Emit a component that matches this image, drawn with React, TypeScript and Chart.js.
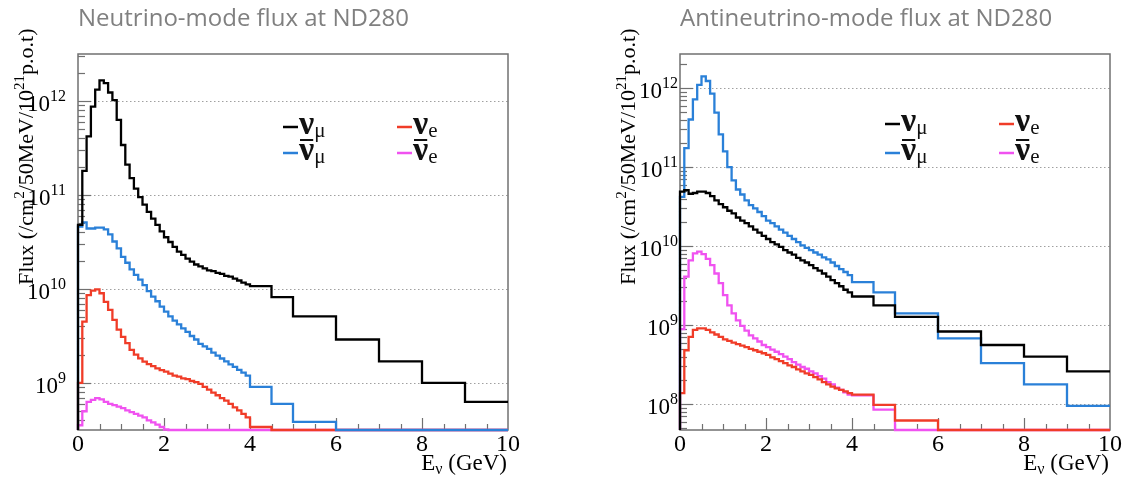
import React, { useEffect, useRef } from 'react';
import { Chart, registerables } from 'chart.js';

Chart.register(...registerables);

// ---------- data ----------
// Energy bin edges (GeV): 0.1 GeV bins up to 4 GeV, then wider bins.
const BIN_EDGES = [
  0, 0.1, 0.2, 0.3, 0.4, 0.5, 0.6, 0.7, 0.8, 0.9,
  1.0, 1.1, 1.2, 1.3, 1.4, 1.5, 1.6, 1.7, 1.8, 1.9,
  2.0, 2.1, 2.2, 2.3, 2.4, 2.5, 2.6, 2.7, 2.8, 2.9,
  3.0, 3.1, 3.2, 3.3, 3.4, 3.5, 3.6, 3.7, 3.8, 3.9,
  4.0, 4.5, 5, 6, 7, 8, 9, 10,
];

const X_TICK_LABELS = [0, 2, 4, 6, 8, 10];

// Neutrino mode (FHC) fluxes, /cm^2/50MeV/1e21 p.o.t
const FHC_NUMU = [
  4.8e10, 1.8e11, 4.2e11, 8.7e11, 1.32e12, 1.66e12, 1.55e12, 1.23e12, 1.02e12, 6.3e11,
  3.4e11, 2.1e11, 1.51e11, 1.17e11, 9.5e10, 7.9e10, 6.6e10, 5.6e10, 4.8e10, 4.1e10,
  3.55e10, 3.16e10, 2.8e10, 2.5e10, 2.3e10, 2.1e10, 1.95e10, 1.82e10, 1.74e10, 1.66e10,
  1.58e10, 1.55e10, 1.48e10, 1.45e10, 1.38e10, 1.35e10, 1.29e10, 1.23e10, 1.17e10, 1.12e10,
  1.07e10, 8.2e9, 5.1e9, 2.9e9, 1.7e9, 1.0e9, 6.3e8,
];
const FHC_NUMUBAR = [
  4.6e10, 5.1e10, 4.4e10, 4.4e10, 4.5e10, 4.5e10, 4.3e10, 3.8e10, 3.2e10, 2.7e10,
  2.2e10, 1.9e10, 1.62e10, 1.41e10, 1.26e10, 1.1e10, 9.5e9, 8.3e9, 7.4e9, 6.5e9,
  5.75e9, 5.1e9, 4.6e9, 4.2e9, 3.8e9, 3.5e9, 3.16e9, 2.9e9, 2.6e9, 2.45e9,
  2.3e9, 2.1e9, 1.95e9, 1.82e9, 1.7e9, 1.58e9, 1.48e9, 1.38e9, 1.29e9, 1.2e9,
  9.1e8, 6.0e8, 3.85e8, 2.0e8, 1.4e8, 9e7, 6e7,
];
const FHC_NUE = [
  1.0e9, 4.5e9, 8.6e9, 9.6e9, 9.9e9, 9.0e9, 7.3e9, 6.0e9, 4.7e9, 3.7e9,
  3.1e9, 2.65e9, 2.25e9, 2.0e9, 1.83e9, 1.69e9, 1.59e9, 1.51e9, 1.43e9, 1.37e9,
  1.32e9, 1.26e9, 1.2e9, 1.17e9, 1.12e9, 1.1e9, 1.05e9, 1.02e9, 9.8e8, 9.1e8,
  8.5e8, 7.9e8, 7.4e8, 6.9e8, 6.5e8, 6.0e8, 5.5e8, 5.1e8, 4.7e8, 4.3e8,
  3.4e8, 2.6e8, 1.9e8, 1.3e8, 9e7, 6e7, 4e7,
];
const FHC_NUEBAR = [
  3.55e8, 5.0e8, 6.3e8, 6.6e8, 6.9e8, 6.7e8, 6.3e8, 6.0e8, 5.8e8, 5.6e8,
  5.4e8, 5.1e8, 4.9e8, 4.7e8, 4.5e8, 4.3e8, 4.0e8, 3.8e8, 3.6e8, 3.4e8,
  3.2e8, 3.0e8, 2.8e8, 2.65e8, 2.5e8, 2.35e8, 2.2e8, 2.1e8, 1.95e8, 1.85e8,
  1.75e8, 1.65e8, 1.55e8, 1.45e8, 1.35e8, 1.25e8, 1.15e8, 1.05e8, 9.8e7, 9.0e7,
  7.5e7, 5.5e7, 3.5e7, 2e7, 1.2e7, 7e6, 4e6,
];

// Antineutrino mode (RHC) fluxes
const RHC_NUMU = [
  4.9e10, 5.1e10, 4.6e10, 4.7e10, 4.9e10, 4.9e10, 4.7e10, 4.3e10, 3.8e10, 3.4e10,
  3.1e10, 2.8e10, 2.6e10, 2.3e10, 2.1e10, 1.95e10, 1.78e10, 1.62e10, 1.48e10, 1.35e10,
  1.23e10, 1.12e10, 1.05e10, 9.8e9, 8.9e9, 8.3e9, 7.8e9, 7.1e9, 6.6e9, 6.2e9,
  5.75e9, 5.25e9, 4.9e9, 4.5e9, 4.1e9, 3.7e9, 3.4e9, 3.1e9, 2.8e9, 2.6e9,
  2.3e9, 1.78e9, 1.27e9, 8.3e8, 5.6e8, 4.0e8, 2.6e8,
];
const RHC_NUMUBAR = [
  4.2e10, 1.74e11, 4.0e11, 7.2e11, 1.1e12, 1.41e12, 1.23e12, 8.5e11, 4.9e11, 2.6e11,
  1.58e11, 1.0e11, 6.8e10, 5.2e10, 4.5e10, 3.8e10, 3.3e10, 3.0e10, 2.7e10, 2.4e10,
  2.1e10, 1.95e10, 1.78e10, 1.62e10, 1.48e10, 1.35e10, 1.23e10, 1.12e10, 1.02e10, 9.5e9,
  8.9e9, 8.3e9, 7.8e9, 7.2e9, 6.8e9, 6.2e9, 5.6e9, 5.1e9, 4.7e9, 4.3e9,
  3.5e9, 2.6e9, 1.41e9, 6.8e8, 3.3e8, 1.78e8, 9.5e7,
];
const RHC_NUE = [
  1.38e8, 4.8e8, 7.1e8, 8.7e8, 9.1e8, 9.1e8, 8.7e8, 8.1e8, 7.6e8, 7.1e8,
  6.6e8, 6.3e8, 6.0e8, 5.75e8, 5.5e8, 5.25e8, 5.0e8, 4.8e8, 4.6e8, 4.4e8,
  4.2e8, 3.9e8, 3.7e8, 3.5e8, 3.3e8, 3.1e8, 2.95e8, 2.75e8, 2.6e8, 2.45e8,
  2.35e8, 2.2e8, 2.05e8, 1.9e8, 1.78e8, 1.66e8, 1.58e8, 1.51e8, 1.45e8, 1.38e8,
  1.32e8, 9.8e7, 6.2e7, 3.5e7, 2.5e7, 1.8e7, 1.2e7,
];
const RHC_NUEBAR = [
  8.9e8, 4.1e9, 6.6e9, 8.1e9, 8.5e9, 7.9e9, 6.9e9, 5.75e9, 4.5e9, 3.4e9,
  2.4e9, 1.78e9, 1.41e9, 1.15e9, 9.8e8, 8.5e8, 7.4e8, 6.8e8, 6.2e8, 5.6e8,
  5.25e8, 4.9e8, 4.6e8, 4.3e8, 4.0e8, 3.7e8, 3.4e8, 3.16e8, 2.95e8, 2.8e8,
  2.6e8, 2.45e8, 2.25e8, 2.1e8, 1.9e8, 1.78e8, 1.62e8, 1.51e8, 1.41e8, 1.32e8,
  1.29e8, 8.5e7, 4.0e7, 2.5e7, 1.5e7, 9e6, 5e6,
];

const FHC_Y_RANGE = [3.16e8, 3.16e12];
const RHC_Y_RANGE = [4.7e7, 2.7e12];

const FHC_TITLE = 'Neutrino-mode flux at ND280';
const RHC_TITLE = 'Antineutrino-mode flux at ND280';

// ---------- styling ----------
const COLOR_NUMU = '#000000';
const COLOR_NUMUBAR = '#2a80d8';
const COLOR_NUE = '#f03c28';
const COLOR_NUEBAR = '#f052f0';

const SERIF = '"Liberation Serif", "DejaVu Serif", serif';
const SANS = '"Open Sans", "Noto Sans", sans-serif';
const FRAME = '#707070';

type Run = { t: string; size: number; dy?: number; bold?: boolean };

function runFont(r: Run) {
  return `${r.bold ? 'bold ' : ''}${r.size}px ${SERIF}`;
}
function runsWidth(ctx: CanvasRenderingContext2D, runs: Run[]) {
  let w = 0;
  for (const r of runs) {
    ctx.font = runFont(r);
    w += ctx.measureText(r.t).width;
  }
  return w;
}
function drawRuns(
  ctx: CanvasRenderingContext2D,
  runs: Run[],
  x: number,
  y: number,
  align: 'left' | 'right' | 'center',
) {
  const w = runsWidth(ctx, runs);
  let cx = align === 'left' ? x : align === 'right' ? x - w : x - w / 2;
  ctx.textAlign = 'left';
  ctx.textBaseline = 'alphabetic';
  for (const r of runs) {
    ctx.font = runFont(r);
    ctx.fillText(r.t, cx, y + (r.dy || 0));
    cx += ctx.measureText(r.t).width;
  }
}

type Series = { data: number[]; color: string };
type LegendEntry = { color: string; sub: string; anti: boolean; col: number; row: number };

const LEGEND: LegendEntry[] = [
  { color: COLOR_NUMU, sub: 'μ', anti: false, col: 0, row: 0 },
  { color: COLOR_NUE, sub: 'e', anti: false, col: 1, row: 0 },
  { color: COLOR_NUMUBAR, sub: 'μ', anti: true, col: 0, row: 1 },
  { color: COLOR_NUEBAR, sub: 'e', anti: true, col: 1, row: 1 },
];

type PanelCfg = {
  title: string;
  yRange: number[];
  series: Series[];
  padding: { left: number; right: number; top: number; bottom: number };
  legendRows: number[];
  yLabelGap: number;
};

function makePlugin(cfg: PanelCfg) {
  return {
    id: 'rootStyle',
    beforeDatasetsDraw(chart: any) {
      const ctx: CanvasRenderingContext2D = chart.ctx;
      const { left, right, top, bottom } = chart.chartArea;
      const xs = chart.scales.x;
      const ys = chart.scales.y;
      const [yMin, yMax] = cfg.yRange;
      ctx.save();
      // dotted gridlines at decades
      ctx.strokeStyle = '#a0a0a0';
      ctx.lineWidth = 1;
      ctx.setLineDash([1.5, 2.5]);
      for (let d = Math.ceil(Math.log10(yMin)); d <= Math.floor(Math.log10(yMax)); d++) {
        const y = Math.round(ys.getPixelForValue(Math.pow(10, d))) + 0.5;
        ctx.beginPath();
        ctx.moveTo(left, y);
        ctx.lineTo(right, y);
        ctx.stroke();
      }
      ctx.setLineDash([]);
      // frame
      ctx.strokeStyle = FRAME;
      ctx.lineWidth = 1.5;
      ctx.strokeRect(left, top, right - left, bottom - top);
      // y ticks
      ctx.lineWidth = 1.2;
      for (let d = Math.floor(Math.log10(yMin)); d <= Math.ceil(Math.log10(yMax)); d++) {
        for (let m = 1; m <= 9; m++) {
          const v = m * Math.pow(10, d);
          if (v < yMin * 1.001 || v > yMax * 0.999) continue;
          const y = Math.round(ys.getPixelForValue(v)) + 0.5;
          ctx.beginPath();
          ctx.moveTo(left, y);
          ctx.lineTo(left + (m === 1 ? 13 : 7), y);
          ctx.stroke();
        }
      }
      // x ticks every 0.5 GeV
      for (let i = 1; i < 20; i++) {
        const x = Math.round(xs.getPixelForValue(i / 2)) + 0.5;
        ctx.beginPath();
        ctx.moveTo(x, bottom);
        ctx.lineTo(x, bottom - (i % 4 === 0 ? 12 : 6));
        ctx.stroke();
      }
      ctx.restore();
    },
    afterDatasetsDraw(chart: any) {
      const ctx: CanvasRenderingContext2D = chart.ctx;
      const { left, right, bottom } = chart.chartArea;
      const xs = chart.scales.x;
      const ys = chart.scales.y;
      const [yMin, yMax] = cfg.yRange;
      ctx.save();
      // title
      ctx.fillStyle = '#808080';
      ctx.font = `24px ${SANS}`;
      ctx.textAlign = 'left';
      ctx.textBaseline = 'alphabetic';
      ctx.fillText(cfg.title, left, 26);

      ctx.fillStyle = '#000';
      // y tick labels
      for (let d = Math.ceil(Math.log10(yMin)); d <= Math.floor(Math.log10(yMax)); d++) {
        const y = ys.getPixelForValue(Math.pow(10, d));
        drawRuns(ctx, [{ t: '10', size: 23 }, { t: String(d), size: 16, dy: -10 }], left - cfg.yLabelGap, y + 10, 'right');
      }
      // x tick labels
      for (const v of X_TICK_LABELS) {
        drawRuns(ctx, [{ t: String(v), size: 24 }], xs.getPixelForValue(v), bottom + 21, 'center');
      }
      // x title
      drawRuns(
        ctx,
        [{ t: 'E', size: 23 }, { t: 'ν', size: 16, dy: 4 }, { t: ' (GeV)', size: 23 }],
        right - 1,
        bottom + 40,
        'right',
      );
      // y title
      ctx.save();
      ctx.translate(left - 45, 285);
      ctx.rotate(-Math.PI / 2);
      drawRuns(
        ctx,
        [
          { t: 'Flux (/cm', size: 22 },
          { t: '2', size: 15, dy: -9 },
          { t: '/50MeV/10', size: 22 },
          { t: '21', size: 15, dy: -9 },
          { t: 'p.o.t)', size: 22 },
        ],
        0,
        0,
        'left',
      );
      ctx.restore();
      // legend
      for (const e of LEGEND) {
        const x0 = left + 205 + e.col * 114;
        const base = cfg.legendRows[e.row];
        ctx.strokeStyle = e.color;
        ctx.lineWidth = 2.5;
        ctx.beginPath();
        ctx.moveTo(x0, base - 7);
        ctx.lineTo(x0 + 15, base - 7);
        ctx.stroke();
        ctx.fillStyle = '#111';
        const nuX = x0 + 16;
        ctx.font = runFont({ t: 'ν', size: 34, bold: true });
        const nuW = ctx.measureText('ν').width;
        drawRuns(ctx, [{ t: 'ν', size: 34, bold: true }], nuX, base, 'left');
        drawRuns(ctx, [{ t: e.sub, size: 21 }], nuX + nuW, base + 3, 'left');
        if (e.anti) {
          ctx.strokeStyle = '#111';
          ctx.lineWidth = 2;
          ctx.beginPath();
          ctx.moveTo(nuX + 1, base - 20);
          ctx.lineTo(nuX + nuW - 1, base - 20);
          ctx.stroke();
        }
      }
      ctx.restore();
    },
  };
}

function buildDatasets(cfg: PanelCfg) {
  const yMin = cfg.yRange[0];
  return cfg.series.map((s) => {
    const pts: { x: number; y: number }[] = [{ x: BIN_EDGES[0], y: yMin }];
    s.data.forEach((v, i) => pts.push({ x: BIN_EDGES[i], y: Math.max(v, yMin) }));
    pts.push({ x: BIN_EDGES[BIN_EDGES.length - 1], y: Math.max(s.data[s.data.length - 1], yMin) });
    return {
      data: pts,
      borderColor: s.color,
      backgroundColor: s.color,
      borderWidth: 2.3,
      stepped: 'before' as const,
      pointRadius: 0,
      fill: false,
      clip: 3,
    };
  });
}

const CANVAS_W = 563;
const CANVAS_H = 477;

function FluxPanel({ cfg, offset }: { cfg: PanelCfg; offset: number }) {
  const ref = useRef<HTMLCanvasElement | null>(null);
  useEffect(() => {
    const canvas = ref.current;
    if (!canvas) return;
    const chart = new Chart(canvas, {
      type: 'line',
      data: { datasets: buildDatasets(cfg) as any },
      options: {
        animation: false,
        responsive: false,
        devicePixelRatio: 1,
        events: [],
        layout: { padding: cfg.padding },
        scales: {
          x: { type: 'linear', min: 0, max: 10, display: false },
          y: { type: 'logarithmic', min: cfg.yRange[0], max: cfg.yRange[1], display: false },
        },
        plugins: { legend: { display: false }, tooltip: { enabled: false } },
      },
      plugins: [makePlugin(cfg)],
    });
    return () => chart.destroy();
  }, [cfg]);
  return (
    <canvas
      ref={ref}
      width={CANVAS_W}
      height={CANVAS_H}
      style={{ position: 'absolute', left: offset, top: 0, width: CANVAS_W, height: CANVAS_H }}
    />
  );
}

const FHC_CFG: PanelCfg = {
  title: FHC_TITLE,
  yRange: FHC_Y_RANGE,
  series: [
    { data: FHC_NUMU, color: COLOR_NUMU },
    { data: FHC_NUMUBAR, color: COLOR_NUMUBAR },
    { data: FHC_NUE, color: COLOR_NUE },
    { data: FHC_NUEBAR, color: COLOR_NUEBAR },
  ],
  padding: { left: 78, right: CANVAS_W - 508, top: 54, bottom: CANVAS_H - 430 },
  legendRows: [134, 160],
  yLabelGap: 12,
};

const RHC_CFG: PanelCfg = {
  title: RHC_TITLE,
  yRange: RHC_Y_RANGE,
  series: [
    { data: RHC_NUMU, color: COLOR_NUMU },
    { data: RHC_NUMUBAR, color: COLOR_NUMUBAR },
    { data: RHC_NUE, color: COLOR_NUE },
    { data: RHC_NUEBAR, color: COLOR_NUEBAR },
  ],
  padding: { left: 680 - CANVAS_W, right: CANVAS_W - (1110 - CANVAS_W), top: 54, bottom: CANVAS_H - 430 },
  legendRows: [131, 160],
  yLabelGap: 2,
};

export default function App() {
  return (
    <div style={{ position: 'fixed', left: 0, top: 0, width: 1126, height: 477, background: '#fff', overflow: 'hidden' }}>
      <FluxPanel cfg={FHC_CFG} offset={0} />
      <FluxPanel cfg={RHC_CFG} offset={CANVAS_W} />
    </div>
  );
}
